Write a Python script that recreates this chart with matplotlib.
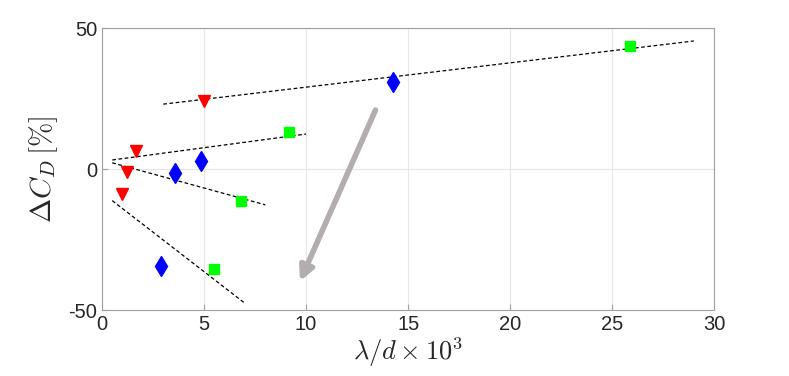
import matplotlib
matplotlib.use("Agg")
import matplotlib.pyplot as plt

# red triangles
redX = [5.0, 1.65, 1.24, 0.96]
redY = [24.0, 6.3, -1.2, -9.0]
# blue diamonds
blueX = [14.26, 4.87, 3.6, 2.9]
blueY = [31.0, 2.7, -1.5, -34.4]
# green squares
greenX = [25.85, 9.17, 6.83, 5.49]
greenY = [43.5, 13.0, -11.5, -35.6]

# dashed fit lines (start, end)
fitX = [[3.0, 29.0], [0.5, 10.0], [0.5, 8.0], [0.5, 7.0]]
fitY = [[23.0, 45.4], [3.2, 12.4], [2.2, -12.7], [-11.2, -47.6]]

arrowStart = (13.4, 20.9)
arrowEnd = (9.7, -39.8)

plt.rcParams['mathtext.fontset'] = 'cm'
plt.rcParams['font.family'] = ['Liberation Sans', 'DejaVu Sans']
plt.rcParams['axes.unicode_minus'] = False

fig = plt.figure(figsize=(7.89, 3.76), dpi=100)
ax = fig.add_axes([0.1293, 0.1755, 0.776, 0.75])

for fx, fy in zip(fitX, fitY):
    ax.plot(fx, fy, color='black', linestyle=(0, (3, 2)), linewidth=0.9, zorder=2)

ax.plot(redX, redY, 'v', color='#ff0000', ms=9, zorder=3)
ax.plot(blueX, blueY, 'd', color='#0000ff', ms=10, zorder=3)
ax.plot(greenX, greenY, 's', color='#00ff00', ms=7, zorder=3)

ax.annotate('', xy=arrowEnd, xytext=arrowStart,
            arrowprops=dict(arrowstyle='-|>,head_length=0.6,head_width=0.3',
                            color='#b3adad', lw=4,
                            mutation_scale=14, shrinkA=0, shrinkB=0))

ax.set_xlim(0, 30)
ax.set_ylim(-50, 50)
ax.set_xticks([0, 5, 10, 15, 20, 25, 30])
ax.set_yticks([-50, 0, 50])
ax.grid(True, color='#e6e6e6', linewidth=0.8)
ax.set_axisbelow(True)
for s in ax.spines.values():
    s.set_color('#a0a0a0')
ax.tick_params(direction='in', colors='#a0a0a0', labelcolor='#262626',
               labelsize=14.5, length=4)
ax.set_xlabel(r'$\lambda/d \times 10^3$', fontsize=19, color='#262626', labelpad=1)
ax.set_ylabel(r'$\Delta C_D\,[\%]$', fontsize=21, color='#262626', labelpad=6)

fig.savefig('out.png', dpi=100)
